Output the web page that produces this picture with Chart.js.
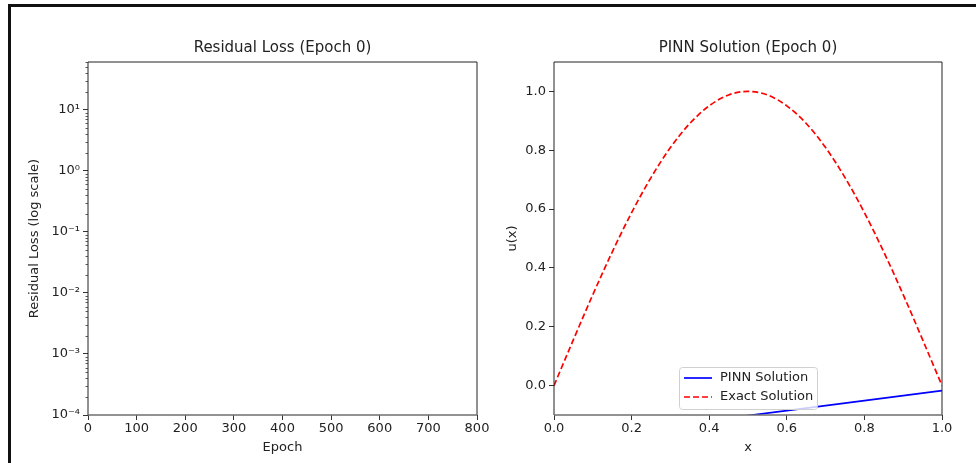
<!DOCTYPE html>
<html>
<head>
<meta charset="utf-8">
<script src="https://cdn.jsdelivr.net/npm/chart.js@4.4.0/dist/chart.umd.min.js"></script>
<style>
  html, body { margin: 0; padding: 0; background: #fff; }
  #wrap { position: relative; width: 976px; height: 463px; overflow: hidden; }
  #frame { position: absolute; left: 8px; top: 4px; right: -10px; bottom: -10px;
           border-top: 3px solid #111; border-left: 3px solid #111; }
  canvas { position: absolute; left: 0; top: 0; }
</style>
</head>
<body>
<div id="wrap">
  <div id="frame"></div>
  <canvas id="lossChart" width="976" height="463"></canvas>
  <canvas id="solChart" width="976" height="463"></canvas>
</div>
<script>
// data
const epochs = [];            // epoch 0: nothing logged yet
const losses = [];
const epochTicks = [0, 100, 200, 300, 400, 500, 600, 700, 800];
const lossTicks = [1e-4, 1e-3, 1e-2, 1e-1, 1e0, 1e1];

const xExact = [0, 0.05, 0.1, 0.15, 0.2, 0.25, 0.3, 0.35, 0.4, 0.45, 0.5,
                0.55, 0.6, 0.65, 0.7, 0.75, 0.8, 0.85, 0.9, 0.95, 1.0];
const uExact = [0, 0.156, 0.309, 0.454, 0.588, 0.707, 0.809, 0.891, 0.951, 0.988, 1.0,
                0.988, 0.951, 0.891, 0.809, 0.707, 0.588, 0.454, 0.309, 0.156, 0];
const xPinn = [0, 0.1, 0.2, 0.3, 0.4, 0.5, 0.6, 0.7, 0.8, 0.9, 1.0];
const uPinn = [-0.187, -0.17, -0.153, -0.136, -0.119, -0.102, -0.085, -0.068, -0.051, -0.034, -0.017];
const xTicks = [0, 0.2, 0.4, 0.6, 0.8, 1.0];
const uTicks = [0, 0.2, 0.4, 0.6, 0.8, 1.0];

const FONT = "'DejaVu Sans', sans-serif";
Chart.defaults.font.family = FONT;
Chart.defaults.font.size = 13;
Chart.defaults.color = '#222';

const sup = { '-': '\u207B', '0': '\u2070', '1': '\u00B9', '2': '\u00B2', '3': '\u00B3',
              '4': '\u2074', '5': '\u2075', '6': '\u2076', '7': '\u2077', '8': '\u2078', '9': '\u2079' };
function powLabel(v) {
  const e = String(Math.round(Math.log10(v)));
  return '10' + e.split('').map(c => sup[c]).join('');
}

// matplotlib-ish frame, title and minor ticks
const framePlugin = {
  id: 'frame',
  afterDraw(chart, args, opts) {
    const { ctx, chartArea: a } = chart;
    ctx.save();
    ctx.strokeStyle = '#222';
    ctx.lineWidth = 1;
    ctx.beginPath();
    ctx.moveTo(a.left, a.bottom); ctx.lineTo(a.left, a.top);
    ctx.lineTo(a.right, a.top); ctx.lineTo(a.right, a.bottom);
    ctx.stroke();
    ctx.strokeStyle = '#6e6e6e';
    ctx.lineWidth = 1.6;
    ctx.beginPath();
    ctx.moveTo(a.left, a.bottom); ctx.lineTo(a.right, a.bottom);
    ctx.stroke();

    ctx.fillStyle = '#222';
    ctx.font = '15px ' + FONT;
    ctx.textAlign = 'center';
    ctx.textBaseline = 'middle';
    ctx.fillText(opts.text, (a.left + a.right) / 2, a.top - 14);

    if (opts.minorLog) {
      const y = chart.scales.y;
      ctx.strokeStyle = '#333';
      ctx.lineWidth = 0.8;
      ctx.beginPath();
      for (let d = -4; d <= 1; d++) {
        for (let m = 2; m <= 9; m++) {
          const v = m * Math.pow(10, d);
          if (v > y.max) continue;
          const py = Math.round(y.getPixelForValue(v)) + 0.5;
          ctx.moveTo(a.left - 2.5, py); ctx.lineTo(a.left, py);
        }
      }
      ctx.stroke();
    }
    ctx.restore();
  }
};

const legendPlugin = {
  id: 'boxLegend',
  afterDraw(chart) {
    const { ctx, chartArea: a } = chart;
    const w = 138, h = 42;
    const x0 = (a.left + a.right) / 2 - w / 2, y0 = a.bottom - 6 - h;
    ctx.save();
    ctx.fillStyle = 'rgba(255,255,255,0.8)';
    ctx.strokeStyle = '#d0d0d0';
    ctx.lineWidth = 1;
    ctx.beginPath();
    ctx.roundRect(x0 + 0.5, y0 + 0.5, w, h, 3);
    ctx.fill(); ctx.stroke();
    ctx.font = '13px ' + FONT;
    ctx.textBaseline = 'middle';
    chart.data.datasets.forEach((ds, i) => {
      const yy = y0 + 11 + i * 19;
      ctx.strokeStyle = ds.borderColor;
      ctx.lineWidth = ds.borderWidth;
      ctx.setLineDash(ds.borderDash || []);
      ctx.beginPath(); ctx.moveTo(x0 + 5, yy); ctx.lineTo(x0 + 33, yy); ctx.stroke();
      ctx.setLineDash([]);
      ctx.fillStyle = '#222';
      ctx.fillText(ds.label, x0 + 41, yy);
    });
    ctx.restore();
  }
};

function setTicks(list) {
  return scale => { scale.ticks = list.map(v => ({ value: v })); };
}
function fixWidth(w) { return scale => { scale.width = w; }; }
function fixHeight(h) { return scale => { scale.height = h; }; }

const tickGrid = { drawOnChartArea: false, tickLength: 5, tickColor: '#333', tickWidth: 1 };

// left: residual loss
new Chart(document.getElementById('lossChart'), {
  type: 'line',
  data: {
    datasets: [{
      label: 'Residual Loss',
      data: epochs.map((e, i) => ({ x: e, y: losses[i] })),
      borderColor: '#1f77b4', borderWidth: 1.5, pointRadius: 0
    }]
  },
  options: {
    responsive: false, animation: false,
    layout: { padding: { left: 27, right: 499, top: 62, bottom: 8 } },
    plugins: { legend: { display: false }, tooltip: { enabled: false },
               frame: { text: 'Residual Loss (Epoch 0)', minorLog: true } },
    scales: {
      x: {
        type: 'linear', min: 0, max: 800,
        afterBuildTicks: setTicks(epochTicks), afterFit: fixHeight(40),
        grid: tickGrid, border: { display: false },
        ticks: { padding: 1, maxRotation: 0, autoSkip: false },
        title: { display: true, text: 'Epoch', padding: 0 }
      },
      y: {
        type: 'logarithmic', min: 1e-4, max: 61,
        afterBuildTicks: setTicks(lossTicks), afterFit: fixWidth(61),
        grid: tickGrid, border: { display: false },
        ticks: { padding: 3, autoSkip: false, callback: v => powLabel(v) },
        title: { display: true, text: 'Residual Loss (log scale)', padding: 0 }
      }
    }
  },
  plugins: [framePlugin]
});

// right: solution
new Chart(document.getElementById('solChart'), {
  type: 'line',
  data: {
    datasets: [{
      label: 'PINN Solution',
      data: xPinn.map((x, i) => ({ x, y: uPinn[i] })),
      borderColor: '#0000ff', borderWidth: 1.7, pointRadius: 0
    }, {
      label: 'Exact Solution',
      data: xExact.map((x, i) => ({ x, y: uExact[i] })),
      borderColor: '#ff0000', borderWidth: 1.7, borderDash: [6, 3], pointRadius: 0,
      cubicInterpolationMode: 'monotone'
    }]
  },
  options: {
    responsive: false, animation: false,
    layout: { padding: { left: 505, right: 34, top: 62, bottom: 8 } },
    plugins: { legend: { display: false }, tooltip: { enabled: false },
               frame: { text: 'PINN Solution (Epoch 0)' } },
    scales: {
      x: {
        type: 'linear', min: 0, max: 1,
        afterBuildTicks: setTicks(xTicks), afterFit: fixHeight(40),
        grid: tickGrid, border: { display: false },
        ticks: { padding: 1, maxRotation: 0, autoSkip: false, callback: v => v.toFixed(1) },
        title: { display: true, text: 'x', padding: 0 }
      },
      y: {
        type: 'linear', min: -0.1, max: 1.1,
        afterBuildTicks: setTicks(uTicks), afterFit: fixWidth(49),
        grid: tickGrid, border: { display: false },
        ticks: { padding: 3, autoSkip: false, callback: v => v.toFixed(1) },
        title: { display: true, text: 'u(x)', padding: 0 }
      }
    }
  },
  plugins: [framePlugin, legendPlugin]
});
</script>
</body>
</html>
